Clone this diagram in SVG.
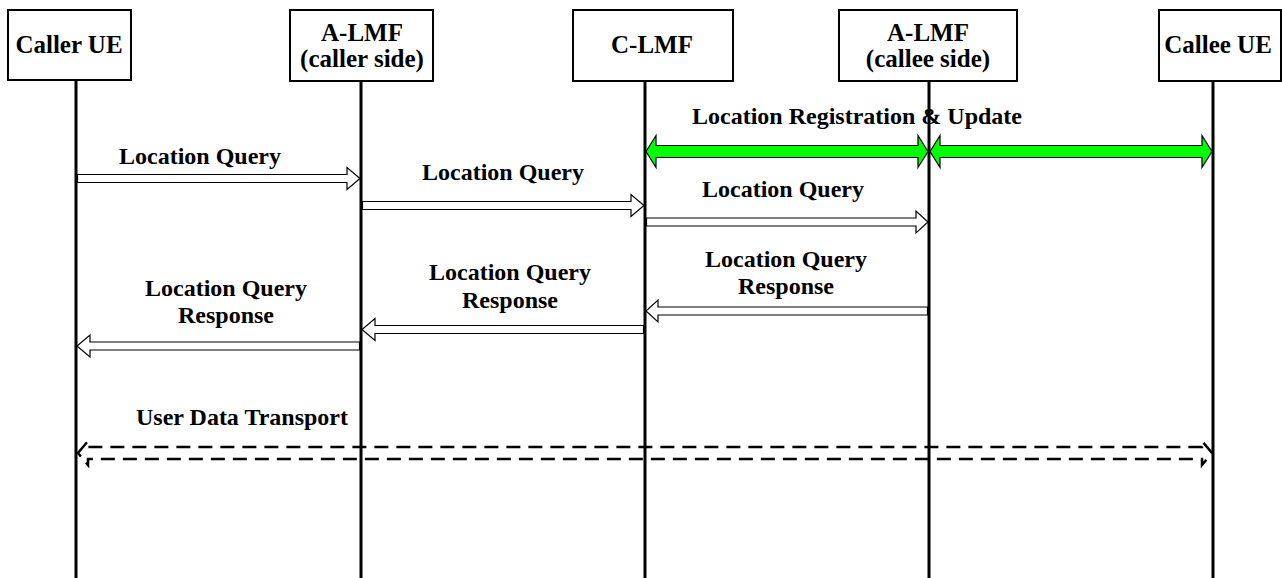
<svg xmlns="http://www.w3.org/2000/svg" width="1282" height="578" viewBox="0 0 1282 578">
<style>
.box{fill:#fff;stroke:#000;stroke-width:2}
.life{stroke:#000;stroke-width:3;fill:none}
.t{font-family:"Liberation Serif","Times New Roman",serif;font-weight:bold;font-size:24px;fill:#000;text-anchor:middle}
.h{font-size:25px}
.msg{fill:#fff;stroke:#000;stroke-width:1.2;stroke-linejoin:miter}
.green{fill:#00ff00;stroke:#000;stroke-width:1.2}
.dash{fill:none;stroke:#000;stroke-width:2.5;stroke-dasharray:14 8}
</style>
<rect width="1282" height="578" fill="#fff"/>
<g id="node-caller-ue">
<line class="life" x1="76" y1="80" x2="76" y2="578"/>
<rect class="box" x="8" y="10" width="123" height="70"/>
<text class="t h" x="69" y="53">Caller UE</text>
</g>
<g id="node-almf-caller">
<line class="life" x1="361" y1="81" x2="361" y2="578"/>
<rect class="box" x="290" y="10" width="143" height="71"/>
<text class="t h" x="362" y="41">A-LMF</text>
<text class="t h" x="362" y="67">(caller side)</text>
</g>
<g id="node-clmf">
<line class="life" x1="645" y1="81" x2="645" y2="578"/>
<rect class="box" x="573" y="10" width="160" height="71"/>
<text class="t h" x="652" y="53">C-LMF</text>
</g>
<g id="node-almf-callee">
<line class="life" x1="929" y1="81" x2="929" y2="578"/>
<rect class="box" x="839" y="10" width="178" height="71"/>
<text class="t h" x="928" y="41">A-LMF</text>
<text class="t h" x="928" y="67">(callee side)</text>
</g>
<g id="node-callee-ue">
<line class="life" x1="1213" y1="81" x2="1213" y2="578"/>
<rect class="box" x="1159" y="10" width="122" height="71"/>
<text class="t h" x="1218" y="53">Callee UE</text>
</g>
<g id="connectors">
<path class="green" d="M646,151.5 L656,135.5 V145.5 H918 V135.5 L928,151.5 L918,167.5 V157.5 H656 V167.5 Z"/>
<path class="green" d="M930,151.5 L940,135.5 V145.5 H1202 V135.5 L1212,151.5 L1202,167.5 V157.5 H940 V167.5 Z"/>
<path class="msg" d="M77.5,174.5 H347 V167.5 L360,178.5 L347,189.5 V182.5 H77.5 Z"/>
<path class="msg" d="M362.5,201.5 H631 V194.5 L644,205.5 L631,216.5 V209.5 H362.5 Z"/>
<path class="msg" d="M646.5,218 H916 V211 L928,222 L916,233 V226 H646.5 Z"/>
<path class="msg" d="M927.5,307 H658 V300 L646,311 L658,322 V315 H927.5 Z"/>
<path class="msg" d="M643.5,325.5 H375 V318.5 L362,329.5 L375,340.5 V333.5 H643.5 Z"/>
<path class="msg" d="M359.5,342 H90 V335 L77,346 L90,357 V350 H359.5 Z"/>
<path class="dash" d="M78,453 L88,441 V447 H1202 V441 L1212,453 L1202,465 V459 H88 V465 Z"/>
</g>
<g id="labels">
<text class="t" x="857" y="124">Location Registration &amp; Update</text>
<text class="t" x="200" y="164">Location Query</text>
<text class="t" x="503" y="180">Location Query</text>
<text class="t" x="783" y="197">Location Query</text>
<text class="t" x="786" y="267">Location Query</text>
<text class="t" x="786" y="294">Response</text>
<text class="t" x="510" y="280">Location Query</text>
<text class="t" x="510" y="308">Response</text>
<text class="t" x="226" y="296">Location Query</text>
<text class="t" x="226" y="323">Response</text>
<text class="t" x="242" y="425">User Data Transport</text>
</g>
</svg>
